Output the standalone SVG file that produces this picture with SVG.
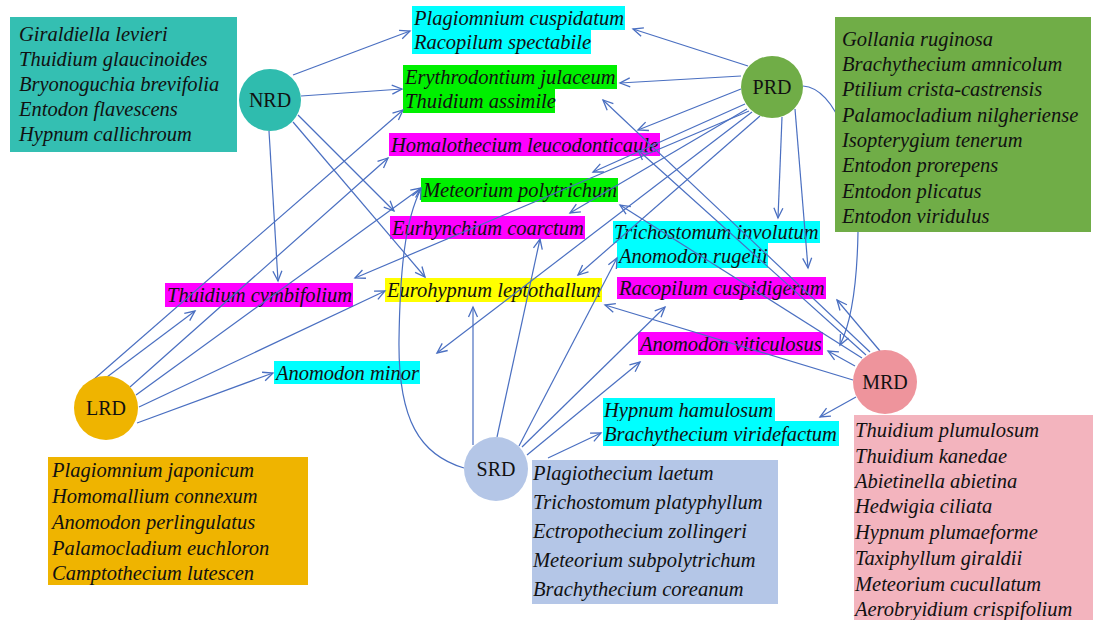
<svg xmlns="http://www.w3.org/2000/svg" width="1093" height="620" viewBox="0 0 1093 620" font-family="'Liberation Serif', 'DejaVu Serif', serif">
<defs>
<style>
text{font-family:'Liberation Serif','DejaVu Serif',serif}
.t{font-style:italic;font-size:20.5px;fill:#111}
.n{font-size:20px;fill:#111;text-anchor:middle}
.c{fill:none;stroke:#4A6FC1;stroke-width:1.2;marker-end:url(#arr)}
.cy{fill:#00FFFF}.gr{fill:#00F000}.mg{fill:#FF00FF}.ye{fill:#FFFF00}
</style>
<marker id="arr" markerUnits="userSpaceOnUse" markerWidth="14" markerHeight="12" viewBox="-12 -6 14 12" refX="0" refY="0" orient="auto">
<path d="M-10,-4.5 L0,0 L-10,4.5" fill="none" stroke="#4A6FC1" stroke-width="1.3"/>
</marker>
</defs>
<rect width="1093" height="620" fill="#fff"/>

<g id="labels" font-family="'Liberation Serif', serif">
<g id="l-plagiomnium"><rect class="cy" x="412" y="6" width="213" height="24"/><text class="t" x="414" y="25">Plagiomnium cuspidatum</text>
<rect class="cy" x="412" y="30" width="179" height="24"/><text class="t" x="414" y="49">Racopilum spectabile</text></g>
<g id="l-erythrodontium"><rect class="gr" x="403" y="65" width="214" height="24"/><text class="t" x="405" y="84">Erythrodontium julaceum</text>
<rect class="gr" x="403" y="89" width="152" height="24"/><text class="t" x="405" y="108">Thuidium assimile</text></g>
<g id="l-homalothecium"><rect class="mg" x="389" y="133" width="271" height="23"/><text class="t" x="391" y="152">Homalothecium leucodonticaule</text></g>
<g id="l-meteorium"><rect class="gr" x="421" y="178" width="197" height="24"/><text class="t" x="423" y="197">Meteorium polytrichum</text></g>
<g id="l-eurhynchium"><rect class="mg" x="390" y="216" width="195" height="23"/><text class="t" x="392" y="235">Eurhynchium coarctum</text></g>
<g id="l-trichostomum"><rect class="cy" x="613" y="221" width="207" height="22"/><text class="t" x="614" y="239">Trichostomum involutum</text>
<rect class="cy" x="617" y="243" width="151" height="25"/><text class="t" x="619" y="263">Anomodon rugelii</text></g>
<g id="l-eurohypnum"><rect class="ye" x="385" y="278" width="217" height="24"/><text class="t" x="387" y="297">Eurohypnum leptothallum</text></g>
<g id="l-racopilum"><rect class="mg" x="617" y="277" width="209" height="22"/><text class="t" x="619" y="295">Racopilum cuspidigerum</text></g>
<g id="l-viticulosus"><rect class="mg" x="638" y="332" width="185" height="23"/><text class="t" x="640" y="351">Anomodon viticulosus</text></g>
<g id="l-hypnum"><rect class="cy" x="603" y="398" width="172" height="23"/><text class="t" x="604" y="417">Hypnum hamulosum</text>
<rect class="cy" x="603" y="421" width="236" height="25"/><text class="t" x="604" y="441">Brachythecium viridefactum</text></g>
<g id="l-cymbifolium"><rect class="mg" x="165" y="283" width="188" height="24"/><text class="t" x="167" y="302">Thuidium cymbifolium</text></g>
<g id="l-minor"><rect class="cy" x="274" y="361" width="146" height="23"/><text class="t" x="276" y="380">Anomodon minor</text></g>
</g>

<g id="connectors">
<path class="c" d="M293,75 L410,31"/>
<path class="c" d="M301,96 L402,89"/>
<path class="c" d="M269,131 L278,281"/>
<path class="c" d="M298,115 L394,211"/>
<path class="c" d="M293,122 L425,277"/>
<path class="c" d="M85,387 L403,110"/>
<path class="c" d="M107,377 L195,311"/>
<path class="c" d="M130,387 L388,158"/>
<path class="c" d="M136,395 L421,188"/>
<path class="c" d="M139,407 L385,291"/>
<path class="c" d="M137,423 L273,373"/>
<path class="c" d="M748,66 L633,29"/>
<path class="c" d="M741,76 L620,83"/>
<path class="c" d="M741,89 L638,130"/>
<path class="c" d="M745,104 L593,172"/>
<path class="c" d="M747,109 L570,213"/>
<path class="c" d="M749,111 L355,278"/>
<path class="c" d="M752,112 L437,353"/>
<path class="c" d="M760,116 L578,275"/>
<path class="c" d="M782,117 L778,218"/>
<path class="c" d="M795,109 L808,268"/>
<path class="c" d="M803,86 C835,88 860,150 858,232 C857,290 850,325 840,345"/>
<path class="c" d="M870,352 L603,100"/>
<path class="c" d="M866,355 L638,150"/>
<path class="c" d="M862,358 L620,205"/>
<path class="c" d="M880,351 L837,300"/>
<path class="c" d="M855,366 L828,351"/>
<path class="c" d="M853,380 L605,305"/>
<path class="c" d="M856,397 L820,417"/>
<path class="c" d="M464,468 C420,455 398,420 399,340 C400,270 405,220 421,189"/>
<path class="c" d="M473,445 L473,307"/>
<path class="c" d="M497,437 L540,239"/>
<path class="c" d="M519,446 L617,258"/>
<path class="c" d="M522,447 L665,307"/>
<path class="c" d="M527,455 L640,362"/>
<path class="c" d="M548,458 L601,433"/>
</g>

<g id="NRD" font-family="'Liberation Serif', serif">
<rect x="10" y="17" width="227" height="135" fill="#34BFB2"/>
<text class="t" x="19" y="41">Giraldiella levieri</text>
<text class="t" x="19" y="66">Thuidium glaucinoides</text>
<text class="t" x="19" y="91">Bryonoguchia brevifolia</text>
<text class="t" x="19" y="116">Entodon flavescens</text>
<text class="t" x="19" y="141">Hypnum callichroum</text>
<circle cx="270" cy="100" r="31" fill="#2FBCAE"/>
<text class="n" x="270" y="107">NRD</text>
</g>

<g id="PRD" font-family="'Liberation Serif', serif">
<rect x="835" y="17" width="256" height="215" fill="#70AD47"/>
<text class="t" x="842" y="46">Gollania ruginosa</text>
<text class="t" x="842" y="71">Brachythecium amnicolum</text>
<text class="t" x="842" y="96">Ptilium crista-castrensis</text>
<text class="t" x="842" y="122">Palamocladium nilgheriense</text>
<text class="t" x="842" y="147">Isopterygium tenerum</text>
<text class="t" x="842" y="172">Entodon prorepens</text>
<text class="t" x="842" y="198">Entodon plicatus</text>
<text class="t" x="842" y="223">Entodon viridulus</text>
<circle cx="772" cy="87" r="31" fill="#70AD47"/>
<text class="n" x="772" y="94">PRD</text>
</g>

<g id="LRD" font-family="'Liberation Serif', serif">
<rect x="48" y="457" width="260" height="128" fill="#EFB400"/>
<text class="t" x="52" y="477">Plagiomnium japonicum</text>
<text class="t" x="52" y="503">Homomallium connexum</text>
<text class="t" x="52" y="529">Anomodon perlingulatus</text>
<text class="t" x="52" y="555">Palamocladium euchloron</text>
<text class="t" x="52" y="580">Camptothecium lutescen</text>
<circle cx="106" cy="408" r="32" fill="#EFB400"/>
<text class="n" x="106" y="415">LRD</text>
</g>

<g id="SRD" font-family="'Liberation Serif', serif">
<rect x="532" y="460" width="246" height="144" fill="#B4C6E7"/>
<text class="t" x="533" y="480">Plagiothecium laetum</text>
<text class="t" x="533" y="509">Trichostomum platyphyllum</text>
<text class="t" x="533" y="538">Ectropothecium zollingeri</text>
<text class="t" x="533" y="567">Meteorium subpolytrichum</text>
<text class="t" x="533" y="596">Brachythecium coreanum</text>
<circle cx="496" cy="469" r="32" fill="#B4C6E7"/>
<text class="n" x="496" y="476">SRD</text>
</g>

<g id="MRD" font-family="'Liberation Serif', serif">
<rect x="854" y="415" width="239" height="205" fill="#F3B4BE"/>
<text class="t" x="855" y="437">Thuidium plumulosum</text>
<text class="t" x="855" y="463">Thuidium kanedae</text>
<text class="t" x="855" y="488">Abietinella abietina</text>
<text class="t" x="855" y="513">Hedwigia ciliata</text>
<text class="t" x="855" y="539">Hypnum plumaeforme</text>
<text class="t" x="855" y="565">Taxiphyllum giraldii</text>
<text class="t" x="855" y="591">Meteorium cucullatum</text>
<text class="t" x="855" y="616">Aerobryidium crispifolium</text>
<circle cx="885" cy="382" r="32" fill="#EE949C"/>
<text class="n" x="885" y="389">MRD</text>
</g>
</svg>
